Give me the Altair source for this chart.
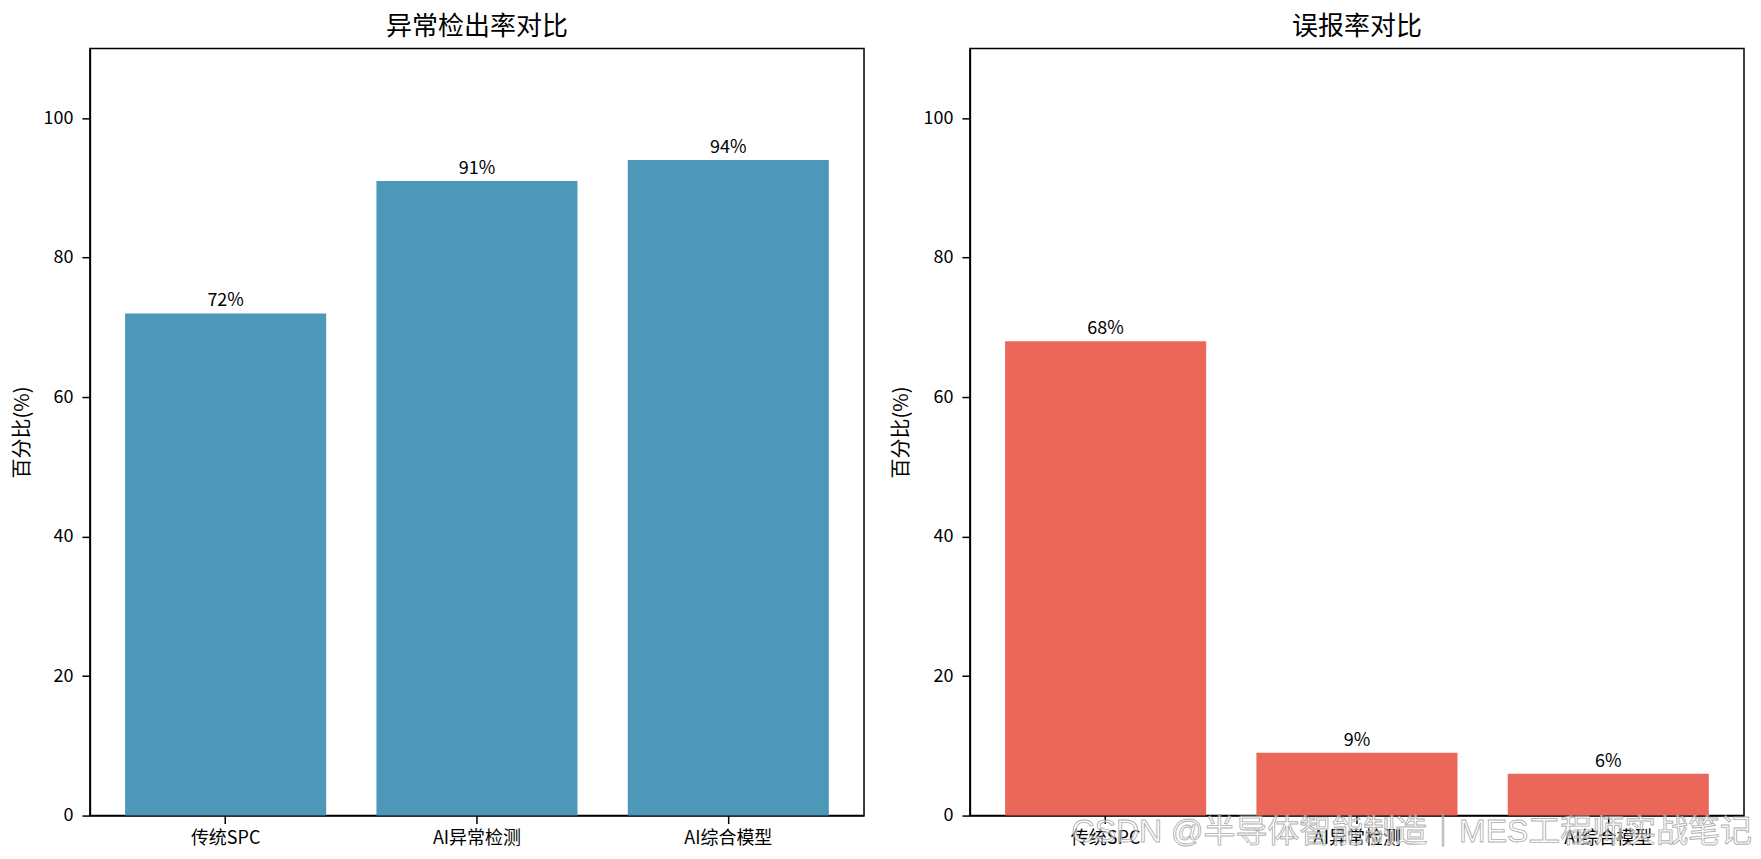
import altair as alt
import pandas as pd

categories = ["传统SPC", "AI异常检测", "AI综合模型"]
detection_rate = [72, 91, 94]
false_alarm_rate = [68, 9, 6]
titles = ["异常检出率对比", "误报率对比"]
y_title = "百分比(%)"
y_ticks = [0, 20, 40, 60, 80, 100]
watermark = "CSDN @半导体智能制造｜MES工程师实战笔记"

FONT = "Noto Sans CJK SC"
WM_FONT = "Liberation Sans, Noto Sans CJK SC"
BLUE = "#4D98B8"
RED = "#EB6759"
W, H = 775, 768


def panel(values, color, title, with_mark=False):
    df = pd.DataFrame({"cat": categories, "value": values})
    base = alt.Chart(df)
    x = alt.X(
        "cat:N",
        sort=categories,
        title=None,
        scale=alt.Scale(paddingInner=0.2, paddingOuter=0.14),
        axis=alt.Axis(labelAngle=0, labelPadding=6),
    )
    y = alt.Y(
        "value:Q",
        scale=alt.Scale(domain=[0, 110], nice=False),
        axis=alt.Axis(values=y_ticks, title=y_title, labelPadding=9, titlePadding=11),
    )
    bars = base.mark_bar(color=color).encode(x=x, y=y)
    labels = (
        base.transform_calculate(label="format(datum.value, '.0f') + '%'")
        .mark_text(baseline="bottom", dy=-3, font=FONT, fontSize=18, color="black")
        .encode(x=x, y=y, text="label:N")
    )
    layers = [bars, labels]
    if with_mark:
        wm = (
            alt.Chart(pd.DataFrame({"t": [watermark]}))
            .mark_text(
                align="right",
                baseline="middle",
                font=WM_FONT,
                fontSize=32,
                fill="#ffffff",
                fillOpacity=0.55,
                stroke="#9a9a9a",
                strokeWidth=0.9,
                strokeOpacity=0.8,
            )
            .encode(text="t:N", x=alt.value(W + 8), y=alt.value(784))
        )
        layers.append(wm)
    return alt.layer(*layers).properties(width=W, height=H, title=title)


left = panel(detection_rate, BLUE, titles[0])
right = panel(false_alarm_rate, RED, titles[1], with_mark=True)

chart = (
    alt.hconcat(left, right, spacing=26)
    .properties(padding={"left": 3, "top": 5, "right": 0, "bottom": 0})
    .configure_view(stroke="black", strokeWidth=1.5)
    .configure_axis(
        grid=False,
        domainColor="black",
        domainWidth=1.5,
        tickColor="black",
        tickWidth=1.5,
        tickSize=8,
        labelFont=FONT,
        labelFontSize=18,
        labelColor="black",
        titleFont=FONT,
        titleFontSize=20,
        titleFontWeight="normal",
        titleColor="black",
    )
    .configure_title(font=FONT, fontSize=26, fontWeight="normal", color="black", anchor="middle", offset=8)
)

chart.save("out.html", embed_options={"renderer": "svg", "actions": False})
